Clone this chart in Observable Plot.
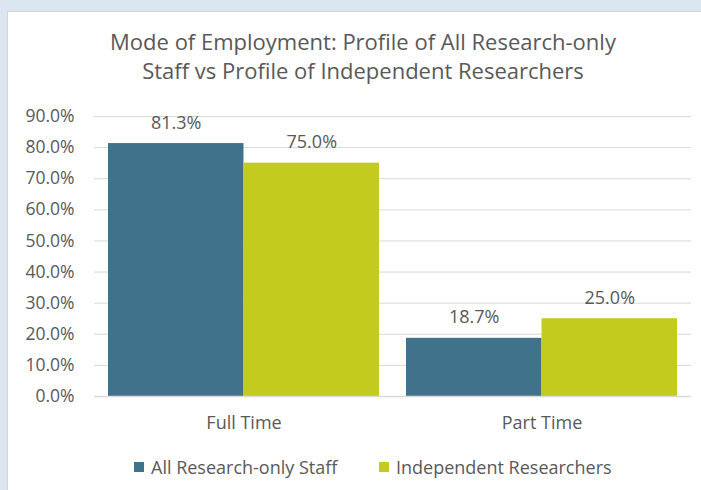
<!DOCTYPE html>
<html>
<head>
<meta charset="utf-8">
<script src="https://cdn.jsdelivr.net/npm/d3@7"></script>
<script src="https://cdn.jsdelivr.net/npm/@observablehq/plot@0.6"></script>
<style>
  html, body { margin: 0; padding: 0; }
  body { width: 701px; height: 490px; background: #dce6f0; position: relative; overflow: hidden; font-family: "Open Sans", Lato, sans-serif; color: #595959; }
  #panel { position: absolute; left: 7px; top: 11px; width: 694px; height: 479px; background: #fff; border-left: 1px solid #d0d4d8; border-top: 1px solid #d0d4d8; box-sizing: border-box; }
  #title { position: absolute; left: 5px; width: 716px; top: 27px; text-align: center; font-size: 22px; line-height: 29px; color: #595959; }
  #chart { position: absolute; left: 7px; top: 90px; }
  .leg { position: absolute; top: 458px; height: 18px; display: flex; align-items: center; font-size: 18px; line-height: 18px; color: #595959; white-space: nowrap; }
  .sw { width: 10px; height: 10px; margin-right: 7px; }
</style>
</head>
<body>
<div id="panel"></div>
<div id="title">Mode of Employment: Profile of All Research-only<br>Staff vs Profile of Independent Researchers</div>
<div id="chart"></div>
<div id="legend"></div>
<script>
const categories = ["Full Time", "Part Time"];
const seriesNames = ["All Research-only Staff", "Independent Researchers"];
const allStaff = [81.3, 18.7];
const independent = [75.0, 25.0];
const yTicks = [0, 10, 20, 30, 40, 50, 60, 70, 80, 90];
const colors = ["#41728c", "#c3cb1f"];

const rowsA = categories.map((c, i) => ({category: c, series: seriesNames[0], value: allStaff[i]}));
const rowsB = categories.map((c, i) => ({category: c, series: seriesNames[1], value: independent[i]}));

const width = 694, height = 350;
const marginLeft = 87, marginRight = 10;
const pi = 0.092, po = 0.046;
const step = (width - marginLeft - marginRight) / (categories.length - pi + 2 * po);
const half = step * (1 - pi) / 2;

const fmt = d => d.toFixed(1) + "%";
const font = "'Open Sans', Lato, sans-serif";

const chart = Plot.plot({
  width, height,
  marginLeft, marginRight, marginTop: 26, marginBottom: 44,
  style: {fontFamily: font, color: "#595959", background: "transparent"},
  x: {domain: categories, paddingInner: pi, paddingOuter: po, align: 0.5, axis: null, label: null},
  y: {domain: [0, 90], axis: null, label: null},
  marks: [
    Plot.gridY(yTicks.filter(d => d > 0), {stroke: "#d9d9d9", strokeOpacity: 1, strokeWidth: 1}),
    Plot.barY(rowsA, {x: "category", y: "value", fill: colors[0], insetRight: half}),
    Plot.barY(rowsB, {x: "category", y: "value", fill: colors[1], insetLeft: half}),
    Plot.ruleY([0], {stroke: "#d9d9d9", strokeWidth: 1.5}),
    Plot.axisY({ticks: yTicks, tickFormat: fmt, tickSize: 0, tickPadding: 20, fontSize: 17.5, fill: "#595959", label: null}),
    Plot.axisX({tickSize: 0, tickPadding: 20, fontSize: 18, fill: "#595959", label: null}),
    Plot.text(rowsA, {x: "category", y: "value", text: d => fmt(d.value), dx: -half / 2, dy: -15, lineAnchor: "bottom", fontSize: 18, fill: "#595959"}),
    Plot.text(rowsB, {x: "category", y: "value", text: d => fmt(d.value), dx: half / 2, dy: -15, lineAnchor: "bottom", fontSize: 18, fill: "#595959"})
  ]
});
document.getElementById("chart").appendChild(chart);

const legend = document.getElementById("legend");
const legendLeft = [134, 379];
seriesNames.forEach((name, i) => {
  const item = document.createElement("div");
  item.className = "leg";
  item.style.left = legendLeft[i] + "px";
  const sw = document.createElement("span");
  sw.className = "sw";
  sw.style.background = colors[i];
  const label = document.createElement("span");
  label.textContent = name;
  item.appendChild(sw);
  item.appendChild(label);
  legend.appendChild(item);
});
</script>
</body>
</html>
